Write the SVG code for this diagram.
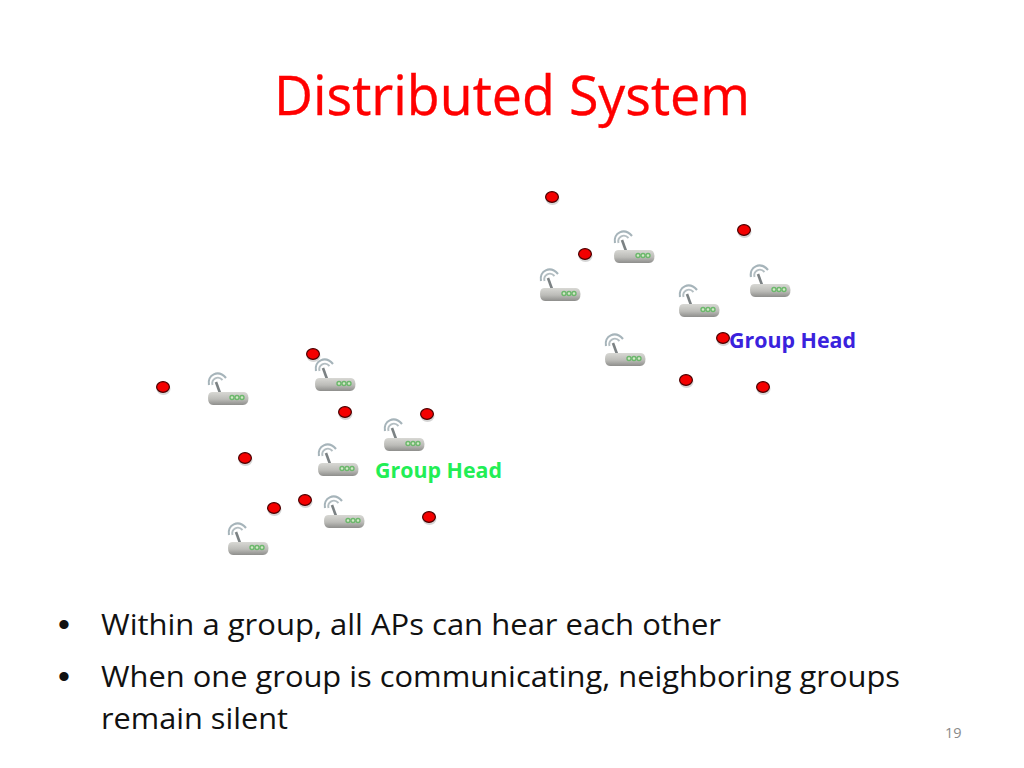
<svg xmlns="http://www.w3.org/2000/svg" width="1024" height="768" viewBox="0 0 1024 768">
<style>
text{font-family:"Open Sans","Noto Sans","Liberation Sans",sans-serif}
.t{font-size:54px;fill:#ff0000;stroke:#ff0000;stroke-width:.35}
.b{font-size:29px;fill:#111}
.p{font-size:34px;fill:#111;font-family:"Liberation Sans",sans-serif}
.g{font-size:21.5px;font-weight:700}
.n{font-size:14.5px;fill:#8a8a8a}
.d{fill:#f40000;stroke:#4a0000;stroke-width:1.2}
.s{fill:#888;opacity:.35}
</style>
<defs>
<linearGradient id="bd" x1="0" y1="0" x2="0" y2="1"><stop offset="0" stop-color="#d8d8d4"/><stop offset=".55" stop-color="#bcbcb8"/><stop offset="1" stop-color="#8e8e8c"/></linearGradient>
<filter id="soft" x="-10%" y="-10%" width="120%" height="120%"><feGaussianBlur stdDeviation="0.4"/></filter>
<g id="ap" filter="url(#soft)">
<path d="M1 13C-1 3 10 -3 18 6" fill="none" stroke="#a6b4ba" stroke-width="2.2"/>
<path d="M4.500 13C3 7 10 3 14.500 8" fill="none" stroke="#b4bec2" stroke-width="1.900"/>
<path d="M8 10L12 21" stroke="#7c8284" stroke-width="2.600" fill="none"/>
<path d="M4 20H36Q40 20 40.500 26Q40.500 33 35 33H5Q0 33 0 26Q0 20 4 20Z" fill="url(#bd)"/>
<g fill="#d4e8c8" stroke="#6cb86c" stroke-width="1.400"><circle cx="24" cy="25.500" r="2"/><circle cx="29" cy="25.500" r="2"/><circle cx="34" cy="25.500" r="2"/></g>
</g>
<g id="dot"><ellipse class="s" cx="0.500" cy="2" rx="7" ry="6"/><ellipse class="d" cx="0" cy="0" rx="6.400" ry="5.400"/></g>
</defs>
<text class="t" x="274" y="115" textLength="476" lengthAdjust="spacingAndGlyphs">Distributed System</text>
<g id="routers">
<use id="ap1" href="#ap" x="614" y="230"/>
<use id="ap2" href="#ap" x="540" y="268"/>
<use id="ap3" href="#ap" x="679" y="284"/>
<use id="ap4" href="#ap" x="750" y="264"/>
<use id="ap5" href="#ap" x="605" y="333"/>
<use id="ap6" href="#ap" x="208" y="372"/>
<use id="ap7" href="#ap" x="315" y="358"/>
<use id="ap8" href="#ap" x="384" y="418"/>
<use id="ap9" href="#ap" x="318" y="443"/>
<use id="ap10" href="#ap" x="324" y="495"/>
<use id="ap11" href="#ap" x="228" y="522"/>
</g>
<g id="clients">
<use href="#dot" x="552" y="197"/><use href="#dot" x="585" y="254"/><use href="#dot" x="744" y="230"/>
<use href="#dot" x="723" y="338"/><use href="#dot" x="686" y="380"/><use href="#dot" x="763" y="387"/>
<use href="#dot" x="163" y="387"/><use href="#dot" x="313" y="354"/><use href="#dot" x="345" y="412"/>
<use href="#dot" x="427" y="414"/><use href="#dot" x="245" y="458"/><use href="#dot" x="305" y="500"/>
<use href="#dot" x="274" y="508"/><use href="#dot" x="429" y="517"/>
</g>
<g id="head-blue"><text class="g" x="729" y="348" fill="#3a22dd" textLength="127" lengthAdjust="spacingAndGlyphs">Group Head</text></g>
<g id="head-green"><text class="g" x="375" y="478" fill="#22ee55" textLength="127" lengthAdjust="spacingAndGlyphs">Group Head</text></g>
<g id="bullets">
<text class="p" x="58" y="636">•</text>
<text class="b" x="101" y="635" textLength="620" lengthAdjust="spacingAndGlyphs">Within a group, all APs can hear each other</text>
<text class="p" x="58" y="688">•</text>
<text class="b" x="101" y="687" textLength="799" lengthAdjust="spacingAndGlyphs">When one group is communicating, neighboring groups</text>
<text class="b" x="101" y="729" textLength="187" lengthAdjust="spacingAndGlyphs">remain silent</text>
</g>
<text class="n" x="945" y="738">19</text>
</svg>
